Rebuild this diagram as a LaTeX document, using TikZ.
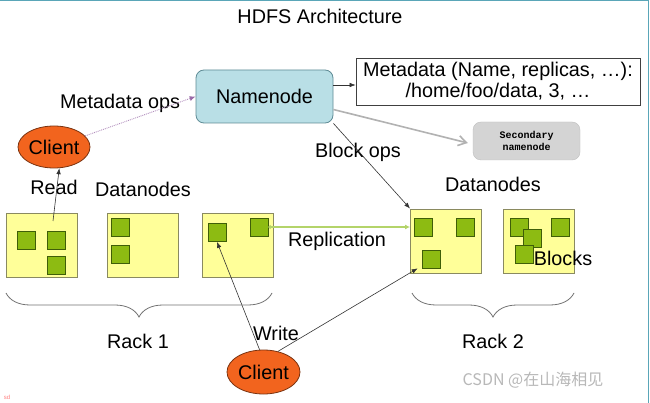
\documentclass[tikz,border=0pt]{standalone}
\usepackage{fontspec}
\setmainfont{Liberation Sans}
\newfontfamily\cjkfont{Noto Sans CJK SC}
\newfontfamily\secfont{Liberation Mono}
\usetikzlibrary{arrows.meta,decorations.pathreplacing,shapes.geometric}
\definecolor{nnfill}{HTML}{B9DFE6}
\definecolor{nnline}{HTML}{5F8C96}
\definecolor{clfill}{HTML}{F2641E}
\definecolor{clline}{HTML}{7A3310}
\definecolor{dnfill}{HTML}{FFFF99}
\definecolor{dnline}{HTML}{8A8A60}
\definecolor{blkfill}{HTML}{8DBB12}
\definecolor{blkline}{HTML}{3F5E08}
\definecolor{secfill}{HTML}{D4D4D4}
\definecolor{repl}{HTML}{B4D46A}
\definecolor{metaops}{HTML}{9A6AA8}
\definecolor{frame}{HTML}{5AA6B8}
\begin{document}
\begin{tikzpicture}[x=1pt,y=-1pt,
  txt/.style={font=\fontsize{19.8}{22}\selectfont, inner sep=0pt},
  nnbox/.style={draw=nnline, fill=nnfill, rounded corners=8pt, minimum width=137pt, minimum height=53pt, line width=0.8pt, txt},
  metabox/.style={draw=black!75, fill=white, minimum width=284pt, minimum height=47pt, inner sep=0pt, align=center, line width=0.8pt, font=\fontsize{19.8}{21}\selectfont},
  secbox/.style={draw=black!25, fill=secfill, rounded corners=8pt, minimum width=107pt, minimum height=38pt, align=center, font=\secfont\bfseries\fontsize{10}{11.5}\selectfont},
  client/.style={ellipse, draw=clline, fill=clfill, inner sep=0pt, line width=0.8pt, txt},
  dnbox/.style={draw=dnline, fill=dnfill, minimum width=71pt, minimum height=64pt, inner sep=0pt, line width=0.9pt},
  blk/.style={draw=blkline, fill=blkfill, minimum width=18pt, minimum height=18pt, inner sep=0pt, line width=0.7pt},
  arr/.style={draw=black!80, line width=0.6pt, -{Latex[length=6pt,width=4.5pt]}},
  brace/.style={draw=black!55, line width=0.8pt, decorate, decoration={brace, amplitude=24pt}}
]
\useasboundingbox (0,0) rectangle (650,403);
\fill[white] (0,0) rectangle (650,403);
\draw[frame, line width=1.5pt] (0,0.75) -- (648.5,0.75) -- (648.5,403);

% title
\node[txt] (title) at (320,16) {HDFS Architecture};

% namenode and metadata
\node[nnbox] (nn) at (264.5,96.5) {Namenode};
\node[metabox] (meta) at (498,81.5) {Metadata (Name, replicas, …):\\/home/foo/data, 3, …};
\node[secbox] (sec) at (526.5,141) {Secondary\\namenode};

% clients
\node[client, minimum width=72pt, minimum height=42pt] (c1) at (54,147) {Client};
\node[client, minimum width=73pt, minimum height=44pt] (c2) at (263.5,372) {Client};

% datanodes rack 1
\node[dnbox] (d1) at (41.5,245) {};
\node[dnbox] (d2) at (142.5,245) {};
\node[dnbox] (d3) at (237.5,245) {};
% datanodes rack 2
\node[dnbox] (d4) at (446,241) {};
\node[dnbox] (d5) at (539,241) {};

% blocks
\node[blk] (b11) at (26.5,240) {};
\node[blk] (b12) at (56.5,240) {};
\node[blk] (b13) at (56.5,265) {};
\node[blk] (b21) at (120.5,227) {};
\node[blk] (b22) at (120.5,254) {};
\node[blk] (b31) at (217,232.5) {};
\node[blk] (b32) at (259,227) {};
\node[blk] (b41) at (423,227) {};
\node[blk] (b42) at (465,227) {};
\node[blk] (b43) at (431,259) {};
\node[blk] (b51) at (519.5,227) {};
\node[blk] (b52) at (560.5,227) {};
\node[blk] (b53) at (532.5,238) {};
\node[blk] (b54) at (524.5,254) {};

% labels
\node[txt] (lmo) at (120,103) {Metadata ops};
\node[txt] (lread) at (54,187) {Read};
\node[txt] (ldn1) at (143,189) {Datanodes};
\node[txt] (lbo) at (358,152) {Block ops};
\node[txt] (ldn2) at (493,184) {Datanodes};
\node[txt] (lrep) at (337,241) {Replication};
\node[txt] (lblk) at (563,258) {Blocks};
\node[txt] (lr1) at (138,341) {Rack 1};
\node[txt] (lr2) at (493,341) {Rack 2};
\node[txt] (lw) at (276,333) {Write};

% connectors
\draw[metaops!75, line width=0.9pt, densely dotted, -{Latex[length=6pt,width=5pt,fill=metaops,color=metaops]}] (c1) -- (nn.west);
\coordinate (rd) at (53,221);
\draw[arr] (rd) -- (c1.284);
\draw[arr] ([yshift=11.5pt]nn.east) coordinate (p1) -- (p1 -| meta.west);
\draw[black!30, line width=1.6pt, -{Straight Barb[length=8pt,width=10pt]}] ([yshift=-13pt]nn.east) -- ([xshift=-5pt,yshift=-2pt]sec.west);
\draw[arr] (nn.south east) -- (d4.north west);
\draw[repl, line width=1.3pt, {Circle[length=3.5pt]}-{Latex[length=5pt,width=5pt]}] (b32.east) -- (d4.west |- b32.east);
\draw[arr] (c2.100) -- (b31.south);
\draw[arr] (c2.55) -- ([xshift=-4pt]b43.south west);

% braces
\coordinate (r1a) at (272,293);
\coordinate (r1b) at (6,293);
\coordinate (r2a) at (574,293);
\coordinate (r2b) at (412,293);
\draw[brace] (r1a) -- (r1b);
\draw[brace] (r2a) -- (r2b);

% watermark
\node[inner sep=0pt, text=black!28, font=\cjkfont\fontsize{16}{18}\selectfont] (wm) at (533,380) {CSDN @在山海相见};
\node[inner sep=0pt, text=red!50, font=\fontsize{6}{7}\selectfont] (sd) at (7,397) {sd};
\end{tikzpicture}
\end{document}
